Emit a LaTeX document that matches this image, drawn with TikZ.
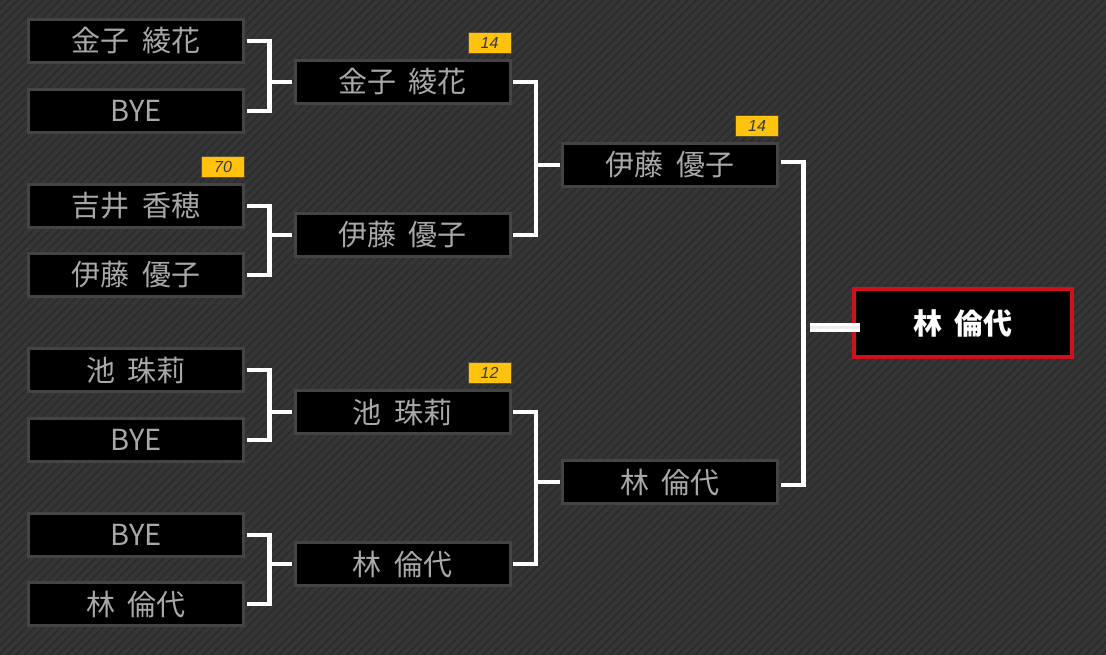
\documentclass[tikz,border=0pt]{standalone}
\usepackage{fontspec}
\newfontfamily\jp{Noto Sans CJK JP}
\newfontfamily\badgefont{Liberation Sans}
\usetikzlibrary{patterns.meta,calc}
\definecolor{bgcol}{HTML}{363636}
\definecolor{stripe}{HTML}{2C2C2C}
\definecolor{boxborder}{HTML}{444444}
\definecolor{nametext}{HTML}{A8A8A8}
\definecolor{badgefill}{HTML}{FFC20E}
\definecolor{badgeborder}{HTML}{5A5030}
\definecolor{badgetext}{HTML}{3A3A3A}
\definecolor{winred}{HTML}{D0101B}
\newcommand{\gap}{\hspace{0.42em}}
\tikzset{
  player/.style={draw=boxborder, line width=3pt, fill=black, minimum width=215pt, minimum height=43pt,
    inner sep=0pt, text=nametext, font=\jp\fontsize{29}{32}\selectfont},
  champion/.style={draw=winred, line width=3.5pt, fill=black, minimum width=218pt, minimum height=68pt,
    inner sep=0pt, text=white, font=\jp\bfseries\fontsize{29}{32}\selectfont},
  badge/.style={draw=badgeborder, line width=0.8pt, fill=badgefill, minimum width=43pt, minimum height=21pt,
    inner sep=0pt, text=badgetext, font=\badgefont\itshape\fontsize{16}{17}\selectfont, anchor=south east},
  conn/.style={draw=white, line width=4.5pt, line join=miter, line cap=butt},
  finalconn/.style={draw=white, line width=3pt, double=white!85!gray, double distance=3pt, line cap=butt}
}
\begin{document}
\begin{tikzpicture}[x=1pt,y=-1pt]
\useasboundingbox (0,0) rectangle (1106,654);
\fill[bgcol] (-3,-3) rectangle (1109,657);
\fill[pattern={Lines[angle=45,distance=6pt,line width=1.8pt]}, pattern color=stripe] (-3,-3) rectangle (1109,657);

% round 1
\node[player] (p1) at (136,41) {金子\gap 綾花};
\node[player] (p2) at (136,111) {BYE};
\node[player] (p3) at (136,206) {吉井\gap 香穂};
\node[player] (p4) at (136,275) {伊藤\gap 優子};
\node[player] (p5) at (136,370) {池\gap 珠莉};
\node[player] (p6) at (136,440) {BYE};
\node[player] (p7) at (136,535) {BYE};
\node[player] (p8) at (136,604) {林\gap 倫代};
% round 2
\node[player] (q1) at (402.5,82) {金子\gap 綾花};
\node[player] (q2) at (402.5,235) {伊藤\gap 優子};
\node[player] (q3) at (402.5,412) {池\gap 珠莉};
\node[player] (q4) at (402.5,564) {林\gap 倫代};
% round 3
\node[player] (r1) at (670,165) {伊藤\gap 優子};
\node[player] (r2) at (670,482) {林\gap 倫代};
% final
\node[champion] (fin) at (963,323) {林\gap 倫代};

% badges
\node[badge] (b1) at ($(q1.north east)+(0,-5)$) {14};
\node[badge] (b2) at ($(p3.north east)+(0,-5)$) {70};
\node[badge] (b3) at ($(q3.north east)+(0,-5)$) {12};
\node[badge] (b4) at ($(r1.north east)+(0,-5)$) {14};

% connectors round 1 -> 2
\foreach \a/\b/\w in {p1/p2/q1, p3/p4/q2, p5/p6/q3, p7/p8/q4}{
  \draw[conn] ($(\a.east)+(1.5,0)$) -- ++(23,0) |- ($(\b.east)+(1.5,0)$);
  \draw[conn] ($(\w.west)+(-1.5,0)$) -- ++(-23,0);
}
% round 2 -> 3
\foreach \a/\b/\w in {q1/q2/r1, q3/q4/r2}{
  \draw[conn] ($(\a.east)+(1.5,0)$) -- ++(23,0) |- ($(\b.east)+(1.5,0)$);
  \draw[conn] ($(\w.west)+(-1.5,0)$) -- ++(-23,0);
}
% round 3 -> final
\draw[conn] ($(r1.east)+(1.5,-3)$) -- ++(23,0) |- ($(r2.east)+(1.5,3)$);
\coordinate (stub) at (810,327);
\draw[finalconn] (stub) -- ($(fin.west)+(8,4)$);
\end{tikzpicture}
\end{document}
